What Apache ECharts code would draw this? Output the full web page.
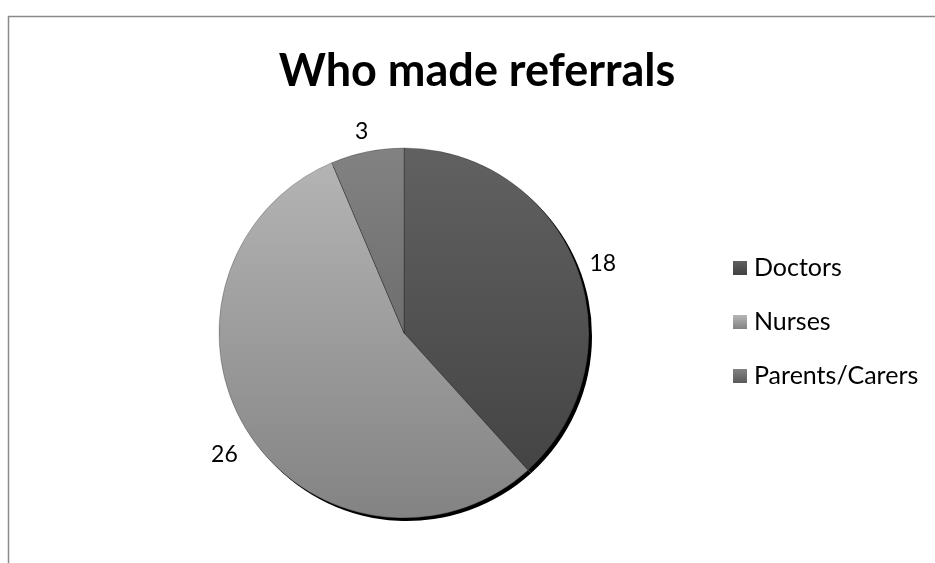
<!DOCTYPE html>
<html>
<head>
<meta charset="utf-8">
<title>Who made referrals</title>
<script src="https://cdn.jsdelivr.net/npm/echarts@6/dist/echarts.min.js"></script>
<style>
  html, body { margin: 0; padding: 0; background: #ffffff; }
  #chart { width: 935px; height: 563px; }
</style>
</head>
<body>
<div id="chart"></div>
<script>
// Referral sources and their counts
const categories = ['Doctors', 'Nurses', 'Parents/Carers'];
const referrals = [18, 26, 3];
const chartTitle = 'Who made referrals';

// Pie geometry and look
const CX = 404, CY = 333, R = 185;
const LABEL_R = 213, LABEL_DY = 7;
const FONT = 'Lato, "Noto Sans", "DejaVu Sans", sans-serif';

// Vertical grey ramps, light at the top of the pie, dark at the bottom
const ramps = [
  ['#616161', '#404040'],
  ['#b6b6b6', '#838383'],
  ['#828282', '#5a5a5a']
];

function pieFill(stops) {
  return {
    type: 'linear', x: 0, y: CY - R, x2: 0, y2: CY + R, global: true,
    colorStops: [{ offset: 0, color: stops[0] }, { offset: 1, color: stops[1] }]
  };
}
function swatchFill(stops) {
  return {
    type: 'linear', x: 0, y: 0, x2: 0, y2: 1,
    colorStops: [{ offset: 0, color: stops[0] }, { offset: 1, color: stops[1] }]
  };
}

// Mid-angle of each slice, degrees clockwise from 12 o'clock
const total = referrals.reduce((s, v) => s + v, 0);
let running = 0;
const midAngles = referrals.map(v => {
  const m = (running + v / 2) / total * 360;
  running += v;
  return m;
});

const chart = echarts.init(document.getElementById('chart'), null, { renderer: 'canvas' });

chart.setOption({
  backgroundColor: '#ffffff',
  animation: false,
  title: {
    text: chartTitle,
    left: 472,
    textAlign: 'center',
    top: 42,
    textStyle: {
      fontFamily: FONT, fontWeight: 'bold', fontSize: 45, lineHeight: 48, color: '#000000'
    }
  },
  legend: {
    orient: 'vertical',
    left: 733,
    top: 255,
    padding: 0,
    icon: 'rect',
    itemWidth: 14,
    itemHeight: 14,
    itemGap: 28,
    selectedMode: false,
    data: categories.map((name, i) => ({ name: name, itemStyle: { color: swatchFill(ramps[i]) } })),
    textStyle: {
      fontFamily: FONT, fontSize: 25, lineHeight: 26, color: '#000000', padding: [0, 0, 0, 2]
    }
  },
  graphic: [{
    type: 'rect',
    silent: true,
    z: -10,
    shape: { x: 8.5, y: 16.5, width: 1000, height: 1000 },
    style: { fill: 'none', stroke: '#8a8a8a', lineWidth: 1.5 }
  }],
  series: [
    {
      // drop shadow under the pie
      name: 'shadow',
      type: 'pie',
      silent: true,
      center: [CX + 3, CY + 3],
      radius: R,
      startAngle: 90,
      label: { show: false },
      labelLine: { show: false },
      itemStyle: { color: '#000000', borderWidth: 0 },
      data: categories.map((name, i) => ({ name: name, value: referrals[i] }))
    },
    {
      name: chartTitle,
      type: 'pie',
      center: [CX, CY],
      radius: R,
      startAngle: 90,
      clockwise: true,
      avoidLabelOverlap: false,
      itemStyle: { borderColor: 'rgba(0,0,0,0.3)', borderWidth: 0.8 },
      label: {
        show: true,
        position: 'outside',
        formatter: '{c}',
        fontFamily: FONT,
        fontSize: 23,
        color: '#000000'
      },
      labelLine: { show: false },
      labelLayout: function (params) {
        const a = midAngles[params.dataIndex] * Math.PI / 180;
        return {
          x: CX + LABEL_R * Math.sin(a),
          y: CY - LABEL_R * Math.cos(a) + LABEL_DY,
          align: 'center',
          verticalAlign: 'middle'
        };
      },
      data: categories.map((name, i) => ({
        name: name,
        value: referrals[i],
        itemStyle: { color: pieFill(ramps[i]) }
      }))
    }
  ]
});
</script>
</body>
</html>
